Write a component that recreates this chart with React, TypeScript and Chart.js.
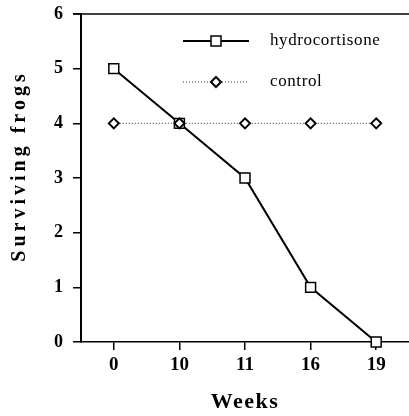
import React, { useEffect, useRef } from "react";
import { Chart, registerables } from "chart.js";

Chart.register(...registerables);

const weeks = ["0", "10", "11", "16", "19"];
const hydrocortisone = [5, 4, 3, 1, 0];
const control = [4, 4, 4, 4, 4];
const yTicks = [0, 1, 2, 3, 4, 5, 6];

const SERIF = "'Liberation Serif', 'Times New Roman', serif";

const framePlugin = {
  id: "frame",
  afterDraw(chart: any) {
    const { ctx, chartArea } = chart;
    const { left, right, top } = chartArea;
    ctx.save();
    // top frame line
    ctx.strokeStyle = "#000";
    ctx.lineWidth = 1.5;
    ctx.beginPath();
    ctx.moveTo(left - 8, top);
    ctx.lineTo(right, top);
    ctx.stroke();

    // axis titles
    ctx.fillStyle = "#000";
    ctx.textAlign = "center";
    ctx.textBaseline = "middle";
    ctx.font = `bold 22px ${SERIF}`;
    (ctx as any).letterSpacing = "1.5px";
    ctx.fillText("Weeks", (left + right) / 2, 402);

    ctx.save();
    ctx.translate(20, 166);
    ctx.rotate(-Math.PI / 2);
    ctx.font = `bold 20px ${SERIF}`;
    (ctx as any).letterSpacing = "4px";
    ctx.fillText("Surviving frogs", 0, 0);
    ctx.restore();

    // legend
    const lx0 = left + 102;
    const lx1 = left + 168;
    const lmid = (lx0 + lx1) / 2;
    const tx = left + 189;
    const y1 = top + 27;
    const y2 = top + 68;
    (ctx as any).letterSpacing = "0.6px";
    ctx.font = `17px ${SERIF}`;
    ctx.textAlign = "left";

    // hydrocortisone
    ctx.setLineDash([]);
    ctx.lineWidth = 2;
    ctx.beginPath();
    ctx.moveTo(lx0, y1);
    ctx.lineTo(lx1, y1);
    ctx.stroke();
    ctx.fillStyle = "#fff";
    ctx.lineWidth = 1.5;
    ctx.fillRect(lmid - 5, y1 - 5, 10, 10);
    ctx.strokeRect(lmid - 5, y1 - 5, 10, 10);
    ctx.fillStyle = "#000";
    ctx.fillText("hydrocortisone", tx, y1);

    // control
    ctx.setLineDash([1, 2]);
    ctx.lineWidth = 1;
    ctx.strokeStyle = "#333";
    ctx.beginPath();
    ctx.moveTo(lx0, y2);
    ctx.lineTo(lx1, y2);
    ctx.stroke();
    ctx.setLineDash([]);
    ctx.strokeStyle = "#000";
    ctx.lineWidth = 2;
    ctx.fillStyle = "#fff";
    ctx.beginPath();
    ctx.moveTo(lmid - 5, y2);
    ctx.lineTo(lmid, y2 - 5);
    ctx.lineTo(lmid + 5, y2);
    ctx.lineTo(lmid, y2 + 5);
    ctx.closePath();
    ctx.fill();
    ctx.stroke();
    ctx.fillStyle = "#000";
    ctx.fillText("control", tx, y2);
    ctx.restore();
  },
};

export default function App() {
  const ref = useRef<HTMLCanvasElement | null>(null);
  useEffect(() => {
    if (!ref.current) return;
    const chart = new Chart(ref.current, {
      type: "line",
      data: {
        labels: weeks,
        datasets: [
          {
            label: "control",
            data: control,
            borderColor: "#333",
            borderWidth: 1,
            borderDash: [1, 2],
            pointStyle: "rectRot",
            pointRadius: 5,
            pointBorderWidth: 2,
            pointBorderColor: "#000",
            pointBackgroundColor: "#fff",
            clip: false as any,
          },
          {
            label: "hydrocortisone",
            data: hydrocortisone,
            borderColor: "#000",
            borderWidth: 2,
            pointStyle: "rect",
            pointRadius: 7,
            pointBorderWidth: 1.5,
            pointBorderColor: "#000",
            pointBackgroundColor: "#fff",
            clip: false as any,
          },
        ],
      },
      options: {
        animation: false,
        responsive: false,
        devicePixelRatio: 1,
        layout: { autoPadding: false, padding: { top: 14, left: 0, right: 0, bottom: 0 } },
        plugins: {
          legend: { display: false },
          tooltip: { enabled: false },
        },
        scales: {
          x: {
            type: "category",
            offset: true,
            grid: {
              display: true,
              drawOnChartArea: false,
              drawTicks: true,
              tickLength: 8,
              color: "#000",
              lineWidth: 1.5,
              offset: false,
            },
            border: { display: true, color: "#000", width: 1.5 },
            ticks: {
              color: "#000",
              padding: 4,
              font: { family: SERIF, size: 19, weight: "bold" },
              maxRotation: 0,
            },
            afterFit(scale: any) {
              scale.height = 74;
              scale.paddingLeft = 0;
              scale.paddingRight = 0;
            },
          },
          y: {
            min: yTicks[0],
            max: yTicks[yTicks.length - 1],
            grid: {
              display: true,
              drawOnChartArea: false,
              drawTicks: true,
              tickLength: 8,
              color: "#000",
              lineWidth: 1.5,
            },
            border: { display: true, color: "#000", width: 2 },
            ticks: {
              stepSize: 1,
              color: "#000",
              padding: 10,
              font: { family: SERIF, size: 18, weight: "bold" },
            },
            afterFit(scale: any) {
              scale.width = 81;
              scale.paddingTop = 0;
              scale.paddingBottom = 0;
            },
          },
        },
      },
      plugins: [framePlugin],
    });
    return () => chart.destroy();
  }, []);
  return (
    <div style={{ position: "absolute", left: 0, top: 0, width: 409, height: 416 }}>
      <canvas ref={ref} width={409} height={416} style={{ display: "block", width: 409, height: 416 }} />
    </div>
  );
}
